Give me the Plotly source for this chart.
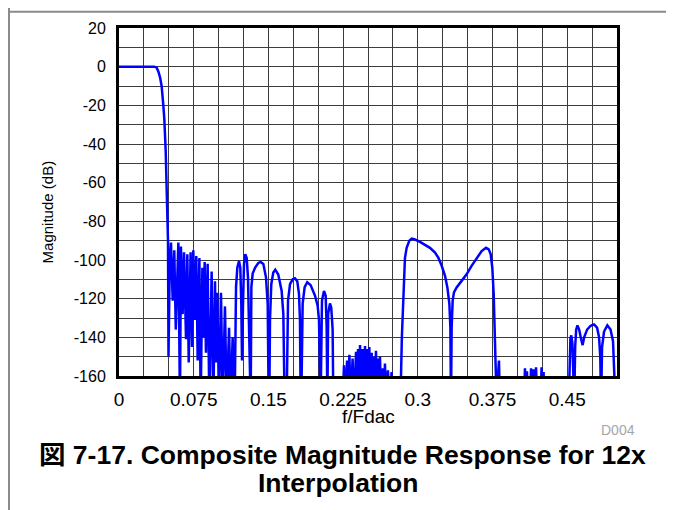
import plotly.graph_objects as go

# ---- data (f/Fdac, magnitude dB) ----
f_pass = [0.000, 0.010, 0.020, 0.030, 0.0355, 0.0378, 0.0395, 0.0412, 0.0428, 0.0445,
          0.0455, 0.0469, 0.0479, 0.0485, 0.0492]
db_pass = [0, 0, 0, 0, 0, -0.5, -2.5, -5.5, -10, -20, -27, -44, -61, -78, -90]

f_dense = [0.0497, 0.0510, 0.0522, 0.0539, 0.0555, 0.0570, 0.0596, 0.0612, 0.0622, 0.0639,
           0.0653, 0.0673, 0.0686, 0.0700, 0.0719, 0.0733, 0.0746, 0.0763, 0.0776, 0.0790,
           0.0807, 0.0820, 0.0837, 0.0847, 0.0860, 0.0873, 0.0890, 0.0907, 0.0930, 0.0947,
           0.0964, 0.0974, 0.0987, 0.1004, 0.1024, 0.1041, 0.1064, 0.1081, 0.1105, 0.1121,
           0.1141, 0.1152]
db_dense = [-150, -100, -91, -121, -95, -136, -91, -175, -93, -128,
            -96, -141, -97, -153, -96, -145, -95, -131, -98, -152,
            -99, -175, -104, -140, -101, -148, -102, -175, -106, -175,
            -111, -153, -117, -175, -117, -175, -124, -175, -135, -175,
            -140, -175]

f_lobes = [0.1161, 0.1175, 0.1188, 0.1205, 0.1218, 0.1228, 0.1235, 0.1245, 0.1255, 0.1268,
           0.1282, 0.1295, 0.1305, 0.1312,
           0.1322, 0.1329, 0.1342, 0.1366, 0.1399, 0.1422, 0.1449, 0.1476, 0.1493, 0.1503,
           0.1509, 0.1516, 0.1529, 0.1549, 0.1569, 0.1599, 0.1633, 0.1650, 0.1663,
           0.1683, 0.1697, 0.1717, 0.1744, 0.1767, 0.1790, 0.1807, 0.1817, 0.1824,
           0.1830, 0.1844, 0.1864, 0.1890, 0.1924, 0.1968, 0.1994, 0.2008, 0.2018,
           0.2024, 0.2038, 0.2058, 0.2075, 0.2085, 0.2092,
           0.2100, 0.2118, 0.2131, 0.2145, 0.2152]
db_lobes = [-175, -114, -104, -100.5, -104, -123, -152, -123, -102, -97,
            -99, -109, -131, -175,
            -175, -114, -107, -104, -101.5, -101, -102, -109, -123, -175,
            -175, -131, -112.5, -106.5, -105, -107.5, -116, -128, -175,
            -175, -121, -112.5, -110, -109.5, -111, -117.5, -131, -175,
            -175, -122.5, -114, -111.5, -113, -118.5, -123.5, -131, -175,
            -175, -121, -116, -118.5, -135, -175,
            -128, -122.5, -124.5, -136, -175]

f_small1 = [0.2245, 0.2259, 0.2272, 0.2290, 0.2300, 0.2313, 0.2328, 0.2345, 0.2360, 0.2380,
            0.2390, 0.2400, 0.2410, 0.2420, 0.2432, 0.2445, 0.2457, 0.2470, 0.2480, 0.2490,
            0.2500, 0.2513, 0.2525, 0.2537, 0.2548, 0.2560, 0.2570, 0.2580, 0.2590, 0.2600,
            0.2610, 0.2620, 0.2635, 0.2650, 0.2660, 0.2670, 0.2685, 0.2700, 0.2718, 0.2737,
            0.2750]
db_small1 = [-175, -154.5, -175, -152, -175, -149, -175, -151, -175, -147.5,
             -175, -146, -175, -144, -175, -146, -175, -144.5, -175, -146,
             -175, -145, -175, -148, -175, -150, -175, -147, -175, -151,
             -175, -150, -175, -156, -175, -153.5, -175, -157, -175, -158,
             -175]

f_big = [0.2825, 0.2840, 0.2855, 0.2871, 0.2888, 0.2915, 0.2939, 0.2972, 0.3022, 0.3072,
         0.3122, 0.3173, 0.3206, 0.3240, 0.3273, 0.3297, 0.3317, 0.3327, 0.3333, 0.3340,
         0.3350, 0.3363, 0.3390, 0.3440, 0.3490, 0.3540, 0.3591, 0.3641, 0.3685, 0.3712,
         0.3732, 0.3748, 0.3762, 0.3775, 0.3792, 0.3805, 0.3815, 0.3825]
db_big = [-175, -140, -114, -99, -93.7, -90, -88.9, -89.4, -90.6, -92,
          -93.7, -96.2, -98.8, -103, -108.2, -114.2, -122.7, -134.7, -175, -134.7,
          -121, -116.8, -114.2, -110.8, -107.4, -103, -98.8, -95.4, -93.7, -94.5,
          -97.1, -104, -117.6, -134.7, -175, -160, -152, -175]

f_small2 = [0.4065, 0.4076, 0.4086, 0.4096, 0.4106, 0.4125, 0.4137, 0.4148, 0.4160, 0.4172,
            0.4187, 0.4200, 0.4230, 0.4243, 0.4253, 0.4263, 0.4273]
db_small2 = [-175, -156, -175, -157.5, -175, -175, -156, -175, -156.5, -175,
             -155.5, -175, -175, -155.5, -175, -158, -175]

f_right = [0.4515, 0.4525, 0.4532, 0.4541, 0.4552, 0.4562, 0.4570, 0.4580, 0.4590, 0.4603,
           0.4620, 0.4640, 0.4655, 0.4670, 0.4700, 0.4735, 0.4769, 0.4800, 0.4820, 0.4832,
           0.4840, 0.4850, 0.4870, 0.4903, 0.4935, 0.4960, 0.4975, 0.4985, 0.5000]
db_right = [-175, -148, -141, -139, -143, -160, -175, -145, -136, -133.8,
            -136, -141, -144, -140, -136, -134, -133.3, -135, -140, -150,
            -175, -145, -137, -133.8, -136, -142, -155, -175, -175]

x_tickvals = [0, 0.075, 0.15, 0.225, 0.3, 0.375, 0.45]
x_ticktext = ["0", "0.075", "0.15", "0.225", "0.3", "0.375", "0.45"]
y_tickvals = [20, 0, -20, -40, -60, -80, -100, -120, -140, -160]
y_ticktext = ["20", "0", "-20", "-40", "-60", "-80", "-100", "-120", "-140", "-160"]

freq = f_pass + f_dense + f_lobes + f_small1 + f_big + f_small2 + f_right
mag = db_pass + db_dense + db_lobes + db_small1 + db_big + db_small2 + db_right

FONT = "Liberation Sans, Arial, Noto Sans CJK JP, sans-serif"

fig = go.Figure()
fig.add_trace(go.Scatter(x=freq, y=mag, mode="lines",
                         line=dict(color="#0000ff", width=2.5), hoverinfo="skip"))

# page body has an 8px margin: figure pixel = window pixel - 8
OFF = 8
W, H = 674 - OFF, 510 - OFF
L, T = 119 - OFF, 25 - OFF
R = W - (617 - OFF)
B = H - (376 - OFF)
pw, ph = W - L - R, H - T - B

def px_x(wx):
    return (wx - OFF - L) / pw

def px_y(wy):
    return (H - B - (wy - OFF)) / ph

grid_col = "#3c3c3c"
fig.update_layout(
    width=W, height=H, margin=dict(l=L, r=R, t=T, b=B),
    paper_bgcolor="white", plot_bgcolor="white", showlegend=False,
    font=dict(family=FONT, size=16, color="black"),
    xaxis=dict(range=[0, 0.5], tickvals=x_tickvals, ticktext=x_ticktext,
               showgrid=True, gridcolor=grid_col, gridwidth=1,
               minor=dict(dtick=0.025, tick0=0, showgrid=True, gridcolor=grid_col, gridwidth=1),
               showline=True, linecolor="black", linewidth=3, mirror=True,
               ticks="", ticklabelstandoff=4, zeroline=False,
               tickfont=dict(size=19)),
    yaxis=dict(range=[-160, 20], tickvals=y_tickvals, ticktext=y_ticktext,
               showgrid=True, gridcolor=grid_col, gridwidth=1,
               minor=dict(dtick=10, tick0=0, showgrid=True, gridcolor=grid_col, gridwidth=1),
               showline=True, linecolor="black", linewidth=3, mirror=True,
               ticks="", ticklabelstandoff=7, zeroline=False,
               tickfont=dict(size=16)),
)

annos = [
    dict(text="Magnitude (dB)", x=px_x(47), y=px_y(211), textangle=-90,
         font=dict(size=15)),
    dict(text="f/Fdac", x=px_x(368), y=px_y(417), font=dict(size=19)),
    dict(text="D004", x=px_x(637), y=px_y(430), xanchor="right",
         font=dict(size=14, color="#a6a6a6")),
    dict(text="<b>図 7-17. Composite Magnitude Response for 12x</b>", x=px_x(342), y=px_y(456),
         font=dict(size=26.5)),
    dict(text="<b>Interpolation</b>", x=px_x(338), y=px_y(484), font=dict(size=26.5)),
]
for a in annos:
    a.setdefault("xanchor", "center")
    fig.add_annotation(xref="paper", yref="paper", showarrow=False, yanchor="middle", **a)

fig.add_shape(type="line", xref="paper", yref="paper",
              x0=px_x(0), x1=px_x(700), y0=(H - B - 0.5) / ph, y1=(H - B - 0.5) / ph,
              line=dict(color="#8a8a8a", width=2))
fig.add_shape(type="line", xref="paper", yref="paper",
              x0=px_x(9), x1=px_x(9), y0=px_y(520), y1=px_y(0),
              line=dict(color="#8a8a8a", width=2))

fig.write_html("out.html")
